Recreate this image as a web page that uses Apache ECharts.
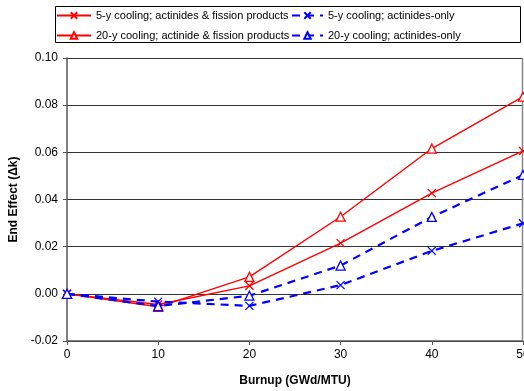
<!DOCTYPE html>
<html>
<head>
<meta charset="utf-8">
<script src="https://cdn.jsdelivr.net/npm/echarts@6/dist/echarts.min.js"></script>
<style>
  html, body { margin: 0; padding: 0; background: #fff; }
  #chart { width: 524px; height: 391px; }
</style>
</head>
<body>
<div id="chart"></div>
<script>
// Burnup steps (GWd/MTU)
const burnup = [0, 10, 20, 30, 40, 50];

// End effect (delta-k) for each cooling time / nuclide set
const cool5AllNuclides  = [0, -0.0045, 0.0034, 0.0215, 0.0427, 0.0606];
const cool20AllNuclides = [0, -0.0055, 0.0072, 0.0327, 0.0616, 0.0836];
const cool5Actinides    = [0, -0.0033, -0.0051, 0.0037, 0.0182, 0.0299];
const cool20Actinides   = [0, -0.0052, -0.0008, 0.0120, 0.0326, 0.0504];

const yTicks = [-0.02, 0.00, 0.02, 0.04, 0.06, 0.08, 0.10];

const names = [
  '5-y cooling; actinides & fission products',
  '20-y cooling; actinide & fission products',
  '5-y cooling; actinides-only',
  '20-y cooling; actinides-only'
];

const FONT = '"Liberation Sans", Arial, sans-serif';
const crossSymbol = 'path://M0,0L10,10M10,0L0,10';

function pairs(ys) {
  return burnup.map((x, i) => [x, ys[i]]);
}

function makeSeries(name, ys, color, dashed, marker) {
  const isCross = marker === 'cross';
  return {
    name: name,
    type: 'line',
    data: pairs(ys),
    symbol: isCross ? crossSymbol : 'triangle',
    symbolSize: isCross ? 8 : 9,
    showAllSymbol: true,
    clip: false,
    lineStyle: {
      color: color,
      width: dashed ? 2.2 : 1.4,
      type: dashed ? [8, 6] : 'solid'
    },
    itemStyle: {
      color: isCross ? color : '#fff',
      borderColor: color,
      borderWidth: 1.3
    },
    emphasis: { disabled: true },
    animation: false,
    z: dashed ? 3 : 2
  };
}

const chart = echarts.init(document.getElementById('chart'), null, { renderer: 'canvas' });

const legendCommon = {
  orient: 'vertical',
  top: 5,
  itemHeight: 8,
  itemGap: 9,
  textStyle: { fontFamily: FONT, fontSize: 11, color: '#000' },
  selectedMode: false
};

chart.setOption({
  backgroundColor: '#fff',
  textStyle: { fontFamily: FONT },
  graphic: [{
    type: 'rect',
    shape: { x: 55.5, y: 6.5, width: 465, height: 36 },
    style: { fill: 'none', stroke: '#000', lineWidth: 1 },
    z: -1
  }, {
    // right edge of the plot frame
    type: 'line',
    shape: { x1: 522.5, y1: 58, x2: 522.5, y2: 341 },
    style: { stroke: '#888', lineWidth: 1.5 },
    z: 1
  }],
  legend: [
    Object.assign({ left: 51, itemWidth: 34, data: [names[0], names[1]] }, legendCommon),
    Object.assign({ left: 286, itemWidth: 31, data: [names[2], names[3]] }, legendCommon)
  ],
  grid: { left: 67, right: 1, top: 58, bottom: 50, containLabel: false, outerBoundsMode: 'none' },
  xAxis: {
    type: 'value',
    min: 0,
    max: 50,
    interval: 10,
    name: 'Burnup (GWd/MTU)',
    nameLocation: 'middle',
    nameGap: 34,
    nameTextStyle: { fontFamily: FONT, fontSize: 12, fontWeight: 'bold', color: '#000' },
    axisLine: { show: true, onZero: false, lineStyle: { color: '#555', width: 1.5 } },
    axisTick: { show: true, length: 4, inside: false, lineStyle: { color: '#555' } },
    axisLabel: { fontFamily: FONT, fontSize: 12, color: '#000', margin: 8 },
    splitLine: { show: false }
  },
  yAxis: {
    type: 'value',
    min: -0.02,
    max: 0.10,
    interval: 0.02,
    name: 'End Effect (\u0394k)',
    nameLocation: 'middle',
    nameGap: 46,
    nameTextStyle: { fontFamily: FONT, fontSize: 12, fontWeight: 'bold', color: '#000' },
    axisLine: { show: true, lineStyle: { color: '#555', width: 1.5 } },
    axisTick: { show: true, length: 4, lineStyle: { color: '#555' } },
    axisLabel: {
      fontFamily: FONT, fontSize: 12, color: '#000', margin: 9,
      formatter: v => yTicks.find(t => Math.abs(t - v) < 1e-9).toFixed(2)
    },
    splitLine: { show: true, lineStyle: { color: '#333', width: 1 } }
  },
  series: [
    makeSeries(names[0], cool5AllNuclides, '#ff0000', false, 'cross'),
    makeSeries(names[1], cool20AllNuclides, '#ff0000', false, 'triangle'),
    makeSeries(names[2], cool5Actinides, '#0000ff', true, 'cross'),
    makeSeries(names[3], cool20Actinides, '#0000ff', true, 'triangle')
  ]
});
</script>
</body>
</html>
